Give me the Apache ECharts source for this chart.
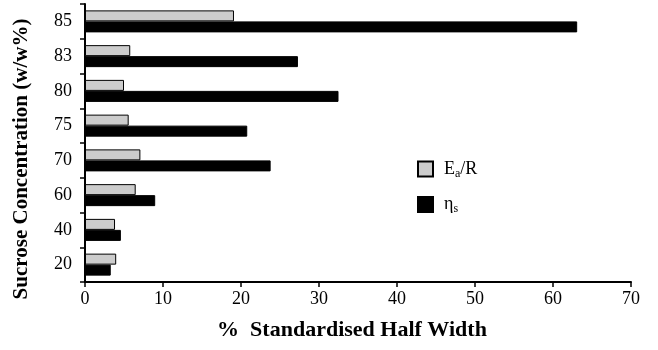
<!DOCTYPE html>
<html>
<head>
<meta charset="utf-8">
<script src="https://cdn.jsdelivr.net/npm/echarts@6/dist/echarts.min.js"></script>
<style>html,body{margin:0;padding:0;background:#fff}#c{width:658px;height:350px}</style>
</head>
<body>
<div id="c"></div>
<script>
var categories = ['20', '40', '60', '70', '75', '80', '83', '85'];
var eaR = [4.0, 3.85, 6.5, 7.1, 5.6, 5.0, 5.8, 19.1];
var etaS = [3.3, 4.6, 9.0, 23.8, 20.8, 32.5, 27.3, 63.1];
var xTicks = [0, 10, 20, 30, 40, 50, 60, 70];
var yTitle = 'Sucrose Concentration (w/w%)';
var xTitle = '%  Standardised Half Width';

var font = 'Liberation Serif';
var chart = echarts.init(document.getElementById('c'), null, {renderer: 'canvas'});
chart.setOption({
  animation: false,
  backgroundColor: '#fff',
  grid: {left: 85, right: 27, top: 4, bottom: 68, containLabel: false},
  legend: {
    orient: 'vertical', left: 417, top: 160, padding: 0, itemWidth: 15, itemHeight: 15, itemGap: 16,
    icon: 'rect',
    data: ['Ea/R', 'ηs'],
    formatter: function (n) {
      return n === 'Ea/R' ? '{a|E}{s|a}{a|/R}' : '{a|η}{s|s}';
    },
    textStyle: {
      fontFamily: font, fontSize: 18, color: '#000', padding: [0, 0, 0, 6],
      rich: {
        a: {fontFamily: font, fontSize: 18, color: '#000'},
        s: {fontFamily: font, fontSize: 12, color: '#000', verticalAlign: 'bottom', padding: [9, 0, 0, 0]}
      }
    }
  },
  graphic: [
    {
      type: 'text', x: 22, y: 159, rotation: Math.PI / 2,
      style: {text: yTitle, fontFamily: font, fontSize: 21, fontWeight: 'bold', fill: '#000',
              textAlign: 'center', textVerticalAlign: 'middle'}
    },
    {
      type: 'text', x: 352, y: 330,
      style: {text: xTitle, fontFamily: font, fontSize: 22, fontWeight: 'bold', fill: '#000',
              textAlign: 'center', textVerticalAlign: 'middle'}
    }
  ],
  xAxis: {
    type: 'value', min: xTicks[0], max: xTicks[xTicks.length - 1], interval: 10,
    axisLine: {show: true, lineStyle: {color: '#000', width: 2}},
    axisTick: {show: true, length: 5, lineStyle: {color: '#000', width: 1.5}},
    axisLabel: {fontFamily: font, fontSize: 18, color: '#000', margin: 8},
    splitLine: {show: false}
  },
  yAxis: {
    type: 'category', data: categories,
    axisLine: {show: true, lineStyle: {color: '#000', width: 2}},
    axisTick: {show: true, length: 5, lineStyle: {color: '#000', width: 1.5}},
    axisLabel: {fontFamily: font, fontSize: 18, color: '#000', margin: 13}
  },
  series: [
    {
      name: 'Ea/R', type: 'bar', data: eaR, barWidth: 11, barGap: '0%',
      itemStyle: {color: '#cccccc', borderColor: '#000', borderWidth: 1}
    },
    {
      name: 'ηs', type: 'bar', data: etaS, barWidth: 11, barGap: '0%',
      itemStyle: {color: '#000', borderColor: '#000', borderWidth: 1}
    }
  ]
});
</script>
</body>
</html>
